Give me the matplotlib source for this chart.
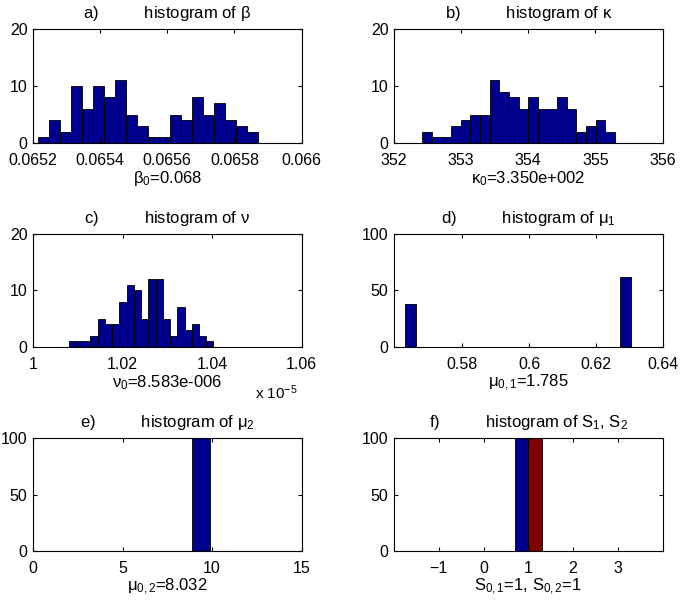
import numpy as np
import matplotlib
matplotlib.use('Agg')
import matplotlib.pyplot as plt

plt.rcParams['font.family'] = ['Liberation Sans', 'DejaVu Sans']
plt.rcParams['font.size'] = 12
plt.rcParams['mathtext.fontset'] = 'custom'
plt.rcParams['mathtext.rm'] = 'Liberation Sans'
plt.rcParams['mathtext.it'] = 'Liberation Sans'
plt.rcParams['axes.linewidth'] = 0.8

# histogram data (bin range, counts)
beta_range = (0.065215, 0.065871)
beta_counts = [1, 4, 2, 10, 6, 10, 8, 11, 5, 3, 1, 1, 5, 4, 8, 5, 7, 4, 3, 2]

kappa_range = (352.42, 355.29)
kappa_counts = [2, 1, 1, 3, 4, 5, 5, 11, 9, 8, 6, 8, 6, 6, 8, 6, 2, 3, 4, 2]

nu_range = (1.00798, 1.04032)
nu_counts = [1, 1, 1, 2, 5, 4, 4, 8, 11, 10, 5, 12, 12, 5, 2, 7, 3, 4, 2, 1]

mu1_range = (0.5627, 0.6306)
mu1_counts = [38] + [0] * 18 + [62]

mu2_range = (8.9, 9.88)
mu2_counts = [100]

s_edges = [0.7, 1.0, 1.3]
s_counts = [100, 100]

blue = (0, 0, 0.5625)
red = (0.5, 0, 0)
TS = 12  # title / label size


def hist_bars(ax, rng, counts, color=blue):
    edges = np.linspace(rng[0], rng[1], len(counts) + 1)
    ax.bar(edges[:-1], counts, width=np.diff(edges), align='edge',
           color=color, edgecolor='black', linewidth=0.6)


def style(ax, xlim, xticks, ylim, yticks):
    ax.set_xlim(*xlim)
    ax.set_ylim(*ylim)
    ax.set_xticks(xticks)
    ax.set_yticks(yticks)
    ax.tick_params(direction='in', top=True, right=True, length=3,
                   labelsize=11.5)
    ax.tick_params(axis='x', pad=7)
    ax.tick_params(axis='y', pad=4)


fig = plt.figure(figsize=(6.85, 6.04), dpi=100)

lx, rx, w = 0.0482, 0.5752, 0.3920
rows = [(0.7632, 0.1887), (0.4255, 0.1871), (0.0877, 0.1871)]
gap = ' ' * 10

# a)
ax = fig.add_axes([lx, rows[0][0], w, rows[0][1]])
hist_bars(ax, beta_range, beta_counts)
style(ax, (0.0652, 0.066), [0.0652, 0.0654, 0.0656, 0.0658, 0.066], (0, 20), [0, 10, 20])
ax.set_xticklabels(['0.0652', '0.0654', '0.0656', '0.0658', '0.066'])
ax.set_title('a)' + gap + r'histogram of $\beta$', fontsize=TS, pad=8)
ax.set_xlabel(r'$\beta_0$=0.068', fontsize=TS, labelpad=1)

# b)
ax = fig.add_axes([rx, rows[0][0], w, rows[0][1]])
hist_bars(ax, kappa_range, kappa_counts)
style(ax, (352, 356), [352, 353, 354, 355, 356], (0, 20), [0, 10, 20])
ax.set_title('b)' + gap + r'histogram of $\kappa$', fontsize=TS, pad=8)
ax.set_xlabel(r'$\kappa_0$=3.350e+002', fontsize=TS, labelpad=1)

# c)
ax = fig.add_axes([lx, rows[1][0], w, rows[1][1]])
hist_bars(ax, nu_range, nu_counts)
style(ax, (1, 1.06), [1, 1.02, 1.04, 1.06], (0, 20), [0, 10, 20])
ax.set_xticklabels(['1', '1.02', '1.04', '1.06'])
ax.set_title('c)' + gap + r'histogram of $\nu$', fontsize=TS, pad=8)
ax.set_xlabel(r'$\nu_0$=8.583e-006', fontsize=TS, labelpad=1)
ax.text(0.985, -0.40, r'x 10$^{-5}$', transform=ax.transAxes, ha='right',
        va='center', fontsize=11)

# d)
ax = fig.add_axes([rx, rows[1][0], w, rows[1][1]])
hist_bars(ax, mu1_range, mu1_counts)
style(ax, (0.5595, 0.64), [0.58, 0.6, 0.62, 0.64], (0, 100), [0, 50, 100])
ax.set_xticklabels(['0.58', '0.6', '0.62', '0.64'])
ax.set_title('d)' + gap + r'histogram of $\mu_1$', fontsize=TS, pad=8)
ax.set_xlabel(r'$\mu_{0,1}$=1.785', fontsize=TS, labelpad=1)

# e)
ax = fig.add_axes([lx, rows[2][0], w, rows[2][1]])
hist_bars(ax, mu2_range, mu2_counts)
style(ax, (0, 15), [0, 5, 10, 15], (0, 100), [0, 50, 100])
ax.set_title('e)' + gap + r'histogram of $\mu_2$', fontsize=TS, pad=8)
ax.set_xlabel(r'$\mu_{0,2}$=8.032', fontsize=TS, labelpad=1)

# f)
ax = fig.add_axes([rx, rows[2][0], w, rows[2][1]])
ax.bar(s_edges[0], s_counts[0], width=s_edges[1] - s_edges[0], align='edge',
       color=blue, edgecolor='black', linewidth=0.6)
ax.bar(s_edges[1], s_counts[1], width=s_edges[2] - s_edges[1], align='edge',
       color=red, edgecolor='black', linewidth=0.6)
style(ax, (-2, 4), [-1, 0, 1, 2, 3], (0, 100), [0, 50, 100])
ax.set_xticklabels(['\u22121', '0', '1', '2', '3'])
ax.set_title('f)' + gap + r'histogram of S$_1$, S$_2$', fontsize=TS, pad=8)
ax.set_xlabel(r'S$_{0,1}$=1, S$_{0,2}$=1', fontsize=TS, labelpad=1)

fig.savefig('out.png', dpi=100)
